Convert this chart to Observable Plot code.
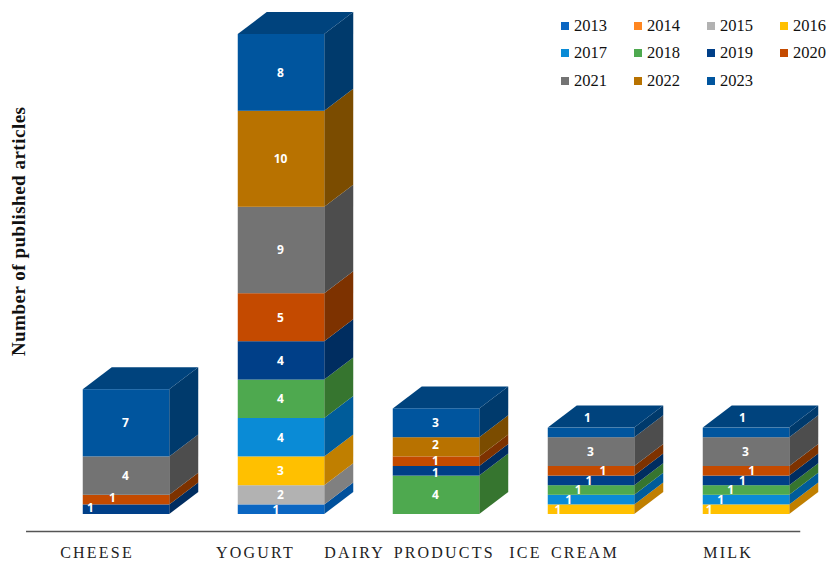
<!DOCTYPE html>
<html>
<head>
<meta charset="utf-8">
<script src="https://cdn.jsdelivr.net/npm/d3@7"></script>
<script src="https://cdn.jsdelivr.net/npm/@observablehq/plot@0.6"></script>
<style>
html,body{margin:0;padding:0;background:#fff}
#wrap{position:relative;width:827px;height:561px;overflow:hidden}
#legend{position:absolute;left:561px;top:12px;display:grid;grid-template-columns:repeat(4,73px);grid-auto-rows:27.5px;font:16.5px "Liberation Serif",serif;color:#111;align-items:center}
#legend span.i{display:flex;align-items:center;white-space:nowrap}
#legend i{display:inline-block;width:8px;height:8px;margin-right:5px}
.cat{letter-spacing:2.2px;word-spacing:3px}
.ytitle{letter-spacing:0.5px}
</style>
</head>
<body>
<div id="wrap"><div id="legend"></div><div id="chart"></div></div>
<script>
const categories = ["CHEESE", "YOGURT", "DAIRY PRODUCTS", "ICE CREAM", "MILK"];
const years = [2013, 2014, 2015, 2016, 2017, 2018, 2019, 2020, 2021, 2022, 2023];
const colors = ["#0a66c2", "#ff8620", "#b2b2b2", "#ffc000", "#0a8bd6", "#4ea94f", "#003f88", "#c44a00", "#737373", "#b87200", "#00559e"];
const sideColors = ["#00509c", "#b85f10", "#808080", "#c07f00", "#005c9a", "#36752f", "#002d60", "#7d3200", "#4d4d4d", "#7b4c00", "#003a6c"];
const v2013 = [0, 1, 0, 0, 0];
const v2014 = [0, 0, 0, 0, 0];
const v2015 = [0, 2, 0, 0, 0];
const v2016 = [0, 3, 0, 1, 1];
const v2017 = [0, 4, 0, 1, 1];
const v2018 = [0, 4, 4, 1, 1];
const v2019 = [1, 4, 1, 1, 1];
const v2020 = [1, 5, 1, 1, 1];
const v2021 = [4, 9, 0, 3, 3];
const v2022 = [0, 10, 2, 0, 0];
const v2023 = [7, 8, 3, 1, 1];
const series = [v2013, v2014, v2015, v2016, v2017, v2018, v2019, v2020, v2021, v2022, v2023];
const yLabel = "Number of published articles";

// layout constants, in scale units
const halfW = 0.279, depthX = 0.187, depthY = 2.29;
const catShift = [-0.19, -0.168, -0.174, -0.177, -0.119];
const labelNudges = [
  [0, 2019, -0.226, 0.2], [0, 2020, -0.084, 0.17],
  [1, 2013, -0.03, -0.08],
  [2, 2019, 0, -0.15], [2, 2020, 0, 0.1], [2, 2022, 0, 0.2],
  [3, 2016, -0.21, -0.08], [3, 2017, -0.14, 0], [3, 2018, -0.08, 0], [3, 2019, -0.01, 0], [3, 2020, 0.08, 0], [3, 2023, -0.02, 1.5],
  [4, 2016, -0.235, -0.08], [4, 2017, -0.16, 0], [4, 2018, -0.095, 0], [4, 2019, -0.02, 0], [4, 2020, 0.04, 0], [4, 2023, -0.02, 1.5]
];

const shade = (c, k) => { const r = d3.rgb(c); return d3.rgb(r.r * k, r.g * k, r.b * k).formatHex(); };

const segs = [];
categories.forEach((cat, i) => {
  let base = 0;
  years.forEach((year, s) => {
    const value = series[s][i];
    if (!value) return;
    segs.push({i, cat, year, value, base, top: base + value, color: colors[s], side: sideColors[s]});
    base += value;
  });
});
const sides = segs.flatMap(d => {
  const key = d.cat + d.year, fill = d.side, x = d.i + halfW;
  return [
    {key, fill, x, y1: d.base, y2: d.top},
    {key, fill, x: x + depthX, y1: d.base + depthY, y2: d.top + depthY}
  ];
});
const tops = categories.flatMap((cat, i) => {
  const last = segs.filter(d => d.i === i).at(-1);
  const fill = shade(last.color, 0.79), t = last.top, l = i - halfW, r = i + halfW;
  return [
    {key: cat, fill, x: l, y1: t, y2: t},
    {key: cat, fill, x: l + depthX, y1: t, y2: t + depthY},
    {key: cat, fill, x: r, y1: t, y2: t + depthY},
    {key: cat, fill, x: r + depthX, y1: t + depthY, y2: t + depthY}
  ];
});
const labels = segs.map(d => {
  const n = labelNudges.find(e => e[0] === d.i && e[1] === d.year) || [0, 0, 0, 0];
  return {text: String(d.value), x: d.i + n[2], y: (d.base + d.top) / 2 + n[3]};
});
const catLabels = categories.map((name, i) => ({name, x: i + catShift[i]}));

const chart = Plot.plot({
  width: 827, height: 561,
  marginTop: 0, marginRight: 0, marginBottom: 0, marginLeft: 0,
  x: {type: "linear", domain: [0, 4], range: [126, 746], axis: null},
  y: {type: "linear", domain: [0, 50], range: [514, 34], axis: null},
  color: {type: "ordinal", domain: years, range: colors},
  marks: [
    Plot.area(sides, {x1: "x", y1: "y1", y2: "y2", z: "key", fill: "fill"}),
    Plot.area(tops, {x1: "x", y1: "y1", y2: "y2", z: "key", fill: "fill"}),
    Plot.rect(segs, {x1: d => d.i - halfW, x2: d => d.i + halfW, y1: "base", y2: "top", fill: "year"}),
    Plot.text(labels, {x: "x", y: "y", text: "text", dx: -1, fill: "white", fontSize: 12, fontWeight: 700, fontFamily: "Open Sans"}),
    Plot.ruleY([-1.77], {x1: -0.645, x2: 4.35, stroke: "#555", strokeWidth: 1.5}),
    Plot.text(catLabels, {x: "x", y: () => -3.96, text: "name", fontSize: 16, fontFamily: "Liberation Serif", fill: "#222", className: "cat"}),
    Plot.text([yLabel], {x: () => -0.697, y: () => 29.5, text: d => d, rotate: -90, fontSize: 19, fontWeight: 700, fontFamily: "Liberation Serif", fill: "#111", className: "ytitle"})
  ]
});
document.getElementById("chart").append(chart);

const legend = document.getElementById("legend");
const scale = chart.scale("color");
years.forEach(y => {
  const s = document.createElement("span");
  s.className = "i";
  const sw = document.createElement("i");
  sw.style.background = scale.apply(y);
  s.append(sw, String(y));
  legend.append(s);
});
</script>
</body>
</html>
